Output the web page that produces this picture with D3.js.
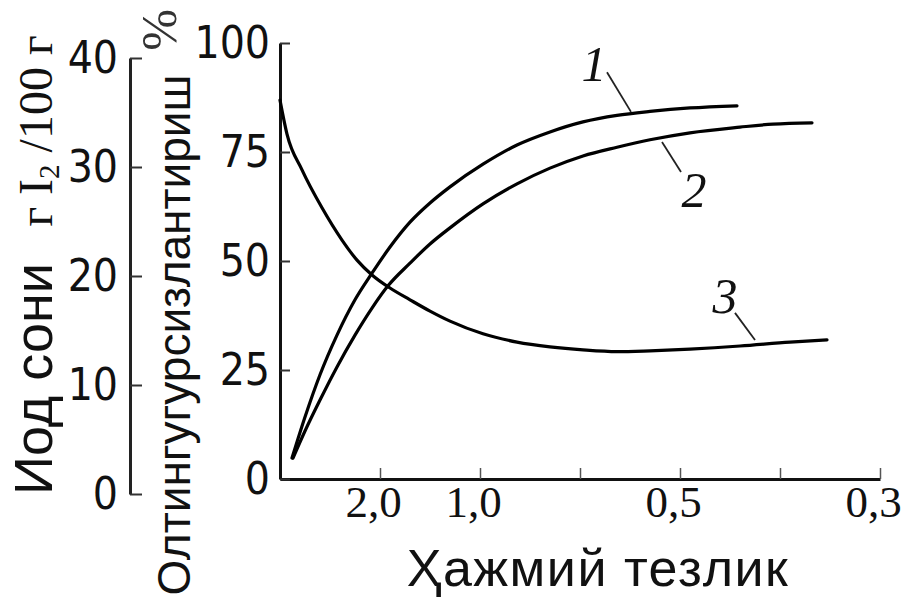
<!DOCTYPE html>
<html>
<head>
<meta charset="utf-8">
<script src="https://cdn.jsdelivr.net/npm/d3@7"></script>
<style>
  html, body { margin: 0; padding: 0; background: #fff; }
  svg { display: block; }
</style>
</head>
<body>
<svg id="chart" width="902" height="598"></svg>
<script>
// ---- data (x = position on the volume-velocity axis in tick units, y = value on 0..100 axis) ----
const xTickValues = [1, 2, 3, 4, 5, 6];
const xTickLabels = ["2,0", "1,0", "", "0,5", "", "0,3"];
const yTicks = [0, 25, 50, 75, 100];
const iodineTicks = [0, 10, 20, 30, 40];

const series1 = [[0.12,4.8],[0.25,14.2],[0.40,23.9],[0.57,33.0],[0.75,41.1],[0.92,47.2],[1.10,53.2],[1.30,58.9],[1.50,63.3],[1.70,67.0],[2.03,72.2],[2.37,76.6],[2.70,79.6],[3.03,81.9],[3.37,83.4],[3.70,84.3],[4.10,85.1],[4.57,85.6]];
const series2 = [[0.13,4.8],[0.25,11.0],[0.40,18.1],[0.57,25.7],[0.75,33.0],[0.92,39.2],[1.08,44.3],[1.30,49.5],[1.50,53.9],[1.70,57.6],[2.03,63.1],[2.37,67.7],[2.70,71.3],[3.03,74.1],[3.37,76.1],[3.70,77.8],[4.10,79.4],[4.60,80.7],[4.93,81.4],[5.32,81.7]];
const series3 = [[0,86.9],[0.07,79.1],[0.22,70.9],[0.42,62.2],[0.62,54.8],[0.77,50.2],[0.92,46.8],[1.10,43.8],[1.30,41.1],[1.50,38.5],[1.70,36.2],[2.03,33.3],[2.37,31.4],[2.70,30.3],[3.03,29.6],[3.37,29.2],[3.70,29.4],[4.10,29.8],[4.60,30.5],[5.10,31.4],[5.47,31.9]];
const seriesNames = ["1", "2", "3"];
// label anchor [x,y], leader start [x,y], leader end [x,y]
const labelPos = [[3.14, 91.3], [4.14, 62.4], [4.45, 38.1]];
const leaderFrom = [[3.27, 93.3], [3.82, 77.3], [4.55, 38.1]];
const leaderTo = [[3.51, 84.2], [4.01, 70.4], [4.75, 31.9]];

const svg = d3.select("#chart");
const ink = "#111";

const x = d3.scaleLinear().domain([0, 6]).range([280, 880]);
const y = d3.scaleLinear().domain([0, 100]).range([479, 43]);
const yIod = d3.scaleLinear().domain([0, 40]).range([494, 58]);

// ---- x axis ----
const gx = svg.append("g").attr("transform", `translate(0,${y(0)})`)
  .call(d3.axisBottom(x).tickValues(xTickValues)
    .tickFormat((d, i) => xTickLabels[i]).tickSize(-11).tickSizeOuter(0).tickPadding(6));
gx.select(".domain").attr("stroke", ink).attr("stroke-width", 3);
gx.selectAll(".tick line").attr("stroke", "#555").attr("stroke-width", 1.5);
gx.selectAll(".tick text").attr("fill", ink)
  .style("font-family", "'Liberation Serif','Times New Roman',serif").style("font-size", "45px")
  .attr("dx", "-7");

// ---- middle axis 0..100 ----
const gy = svg.append("g").attr("transform", `translate(${x(0)},0)`)
  .call(d3.axisLeft(y).tickValues(yTicks).tickSize(-10).tickSizeOuter(0).tickPadding(10));
gy.select(".domain").attr("stroke", ink).attr("stroke-width", 3);
gy.selectAll(".tick line").attr("stroke", "#333").attr("stroke-width", 2);
gy.selectAll(".tick text").attr("fill", ink)
  .style("font-family", "'Liberation Sans Narrow','Arial Narrow','DejaVu Sans Condensed',sans-serif")
  .style("font-size", "44px");

// ---- left iodine axis 0..40 ----
const gi = svg.append("g").attr("transform", "translate(130,0)")
  .call(d3.axisLeft(yIod).tickValues(iodineTicks).tickSize(-12).tickSizeOuter(0).tickPadding(12));
gi.select(".domain").attr("stroke", "#222").attr("stroke-width", 3);
gi.selectAll(".tick line").attr("stroke", "#333").attr("stroke-width", 2);
gi.selectAll(".tick text").attr("fill", ink)
  .style("font-family", "'Liberation Sans Narrow','Arial Narrow','DejaVu Sans Condensed',sans-serif")
  .style("font-size", "44px");

// ---- curves ----
const line = d3.line().x(d => x(d[0])).y(d => y(d[1])).curve(d3.curveMonotoneX);
[series1, series2, series3].forEach(s => {
  svg.append("path").datum(s).attr("d", line)
    .attr("fill", "none").attr("stroke", "#000").attr("stroke-width", 3.2)
    .attr("stroke-linecap", "round").attr("stroke-linejoin", "round");
});

// ---- curve labels with leaders ----
seriesNames.forEach((n, i) => {
  svg.append("line")
    .attr("x1", x(leaderFrom[i][0])).attr("y1", y(leaderFrom[i][1]))
    .attr("x2", x(leaderTo[i][0])).attr("y2", y(leaderTo[i][1]))
    .attr("stroke", "#222").attr("stroke-width", 1.8);
  svg.append("text").text(n)
    .attr("x", x(labelPos[i][0])).attr("y", y(labelPos[i][1]))
    .attr("text-anchor", "middle").attr("fill", ink)
    .style("font-family", "'Liberation Serif','Times New Roman',serif")
    .style("font-style", "italic").style("font-size", "50px");
});

// ---- axis titles ----
svg.append("text").text("Ҳажмий тезлик")
  .attr("x", 598).attr("y", 586).attr("text-anchor", "middle").attr("fill", ink)
  .style("font-family", "'Liberation Sans',Arial,sans-serif").style("font-size", "52px")
  .style("letter-spacing", "1.5px");

svg.append("text").text("Иод сони")
  .attr("transform", "translate(52,379) rotate(-90)")
  .attr("text-anchor", "middle").attr("fill", ink)
  .style("font-family", "'Liberation Sans',Arial,sans-serif").style("font-size", "54px");

const unit = svg.append("text")
  .attr("transform", "translate(52,131) rotate(-90)")
  .attr("text-anchor", "middle").attr("fill", ink)
  .style("font-family", "'Liberation Serif','Times New Roman',serif").style("font-size", "48px");
unit.append("tspan").text("г I");
unit.append("tspan").text("2").attr("dy", "0.25em").style("font-size", "29px");
unit.append("tspan").text(" /100 г").attr("dy", "-0.15em");

svg.append("text").text("Олтингугурсизлантириш")
  .attr("transform", "translate(190,335) rotate(-90)")
  .attr("text-anchor", "middle").attr("fill", ink)
  .style("font-family", "'Liberation Sans',Arial,sans-serif").style("font-size", "46px");

svg.append("text").text("%")
  .attr("transform", "translate(176,30) rotate(-90)")
  .attr("text-anchor", "middle").attr("fill", "#333")
  .style("font-family", "'Liberation Serif','Times New Roman',serif").style("font-size", "50px");
</script>
</body>
</html>
